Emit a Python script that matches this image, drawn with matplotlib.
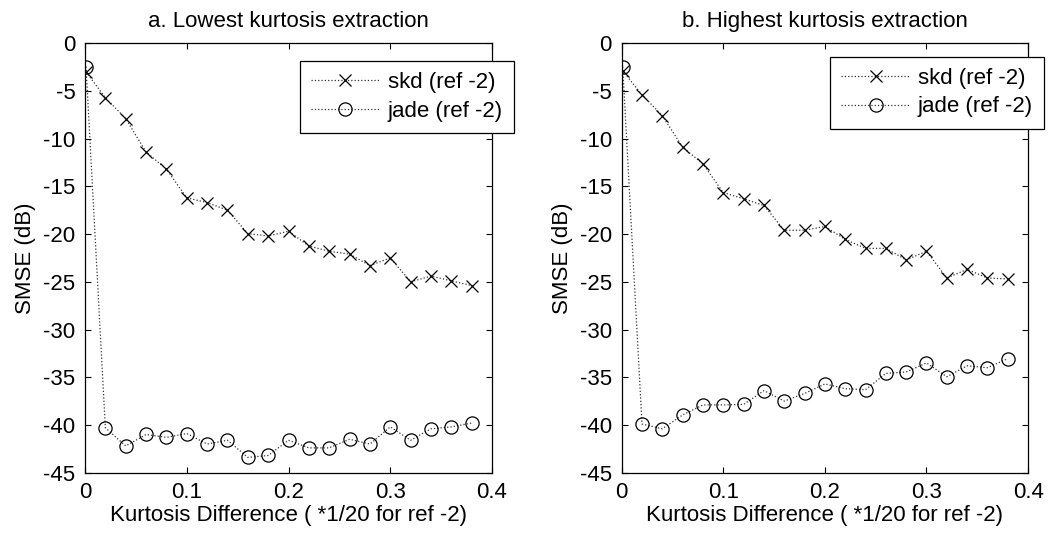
import matplotlib
matplotlib.use("Agg")
import matplotlib.pyplot as plt

plt.rcParams["font.family"] = ["Liberation Sans", "DejaVu Sans"]

# kurtosis difference steps (first point is the reference at ~0)
kurt_diff = [0.001, 0.02, 0.04, 0.06, 0.08, 0.10, 0.12, 0.14, 0.16, 0.18,
             0.20, 0.22, 0.24, 0.26, 0.28, 0.30, 0.32, 0.34, 0.36, 0.38]

# a. lowest kurtosis extraction
skd_low = [-3.0, -5.7, -7.9, -11.4, -13.2, -16.2, -16.7, -17.5, -19.95, -20.2,
           -19.7, -21.25, -21.8, -22.1, -23.3, -22.5, -25.0, -24.4, -24.9, -25.4]
jade_low = [-2.45, -40.3, -42.2, -41.0, -41.3, -40.9, -42.0, -41.6, -43.4, -43.2,
            -41.6, -42.4, -42.4, -41.5, -42.0, -40.2, -41.6, -40.4, -40.2, -39.8]

# b. highest kurtosis extraction
skd_high = [-2.9, -5.4, -7.6, -10.9, -12.65, -15.65, -16.3, -17.0, -19.6, -19.6,
            -19.2, -20.55, -21.5, -21.5, -22.7, -21.8, -24.6, -23.7, -24.6, -24.7]
jade_high = [-2.45, -39.9, -40.4, -38.95, -37.9, -37.9, -37.85, -36.4, -37.5, -36.7,
             -35.7, -36.2, -36.3, -34.6, -34.45, -33.5, -34.95, -33.8, -34.0, -33.05]

titles = ["a. Lowest kurtosis extraction", "b. Highest kurtosis extraction"]
x_ticks = [0, 0.1, 0.2, 0.3, 0.4]
y_ticks = [-45, -40, -35, -30, -25, -20, -15, -10, -5, 0]

FS = 16

fig = plt.figure(figsize=(10.6, 5.35), dpi=100)
axes = [fig.add_axes([0.0802, 0.1165, 0.3840, 0.8027]),
        fig.add_axes([0.5865, 0.1165, 0.3834, 0.8027])]
# legend boxes stick out past the right spine, like the original
legend_anchor = [(0.528, 0.9595), (0.5126, 0.969)]

for ax, title, skd, jade, anchor in zip(axes, titles,
                                       [skd_low, skd_high],
                                       [jade_low, jade_high],
                                       legend_anchor):
    ax.plot(kurt_diff, skd, linestyle=":", color="0.2", linewidth=0.9,
            marker="x", markersize=9, markeredgecolor="black",
            markeredgewidth=0.9, label="skd (ref -2)")
    ax.plot(kurt_diff, jade, linestyle=":", color="0.2", linewidth=0.9,
            marker="o", markersize=9.5, markerfacecolor="none",
            markeredgecolor="black", markeredgewidth=0.9,
            label="jade (ref -2)")
    ax.set_xlim(0, 0.4)
    ax.set_ylim(-45, 0)
    ax.set_xticks(x_ticks)
    ax.set_xticklabels(["0", "0.1", "0.2", "0.3", "0.4"])
    ax.set_yticks(y_ticks)
    ax.set_yticklabels([str(v) for v in y_ticks])
    ax.tick_params(direction="in", length=4, width=0.8, labelsize=FS,
                   top=True, right=True, pad=7)
    for sp in ax.spines.values():
        sp.set_linewidth(0.9)
    ax.set_title(title, fontsize=FS, pad=12)
    ax.set_xlabel("Kurtosis Difference ( *1/20 for ref -2)", fontsize=FS,
                  labelpad=1)
    ax.set_ylabel("SMSE (dB)", fontsize=FS, labelpad=5)
    leg = ax.legend(loc="upper left", bbox_to_anchor=anchor,
                    borderaxespad=0, fontsize=FS, fancybox=False,
                    framealpha=1, edgecolor="black", handlelength=3.1,
                    handletextpad=0.35, borderpad=0.5, labelspacing=0.35)
    leg.get_frame().set_linewidth(0.9)

fig.savefig("out.png", dpi=100)
